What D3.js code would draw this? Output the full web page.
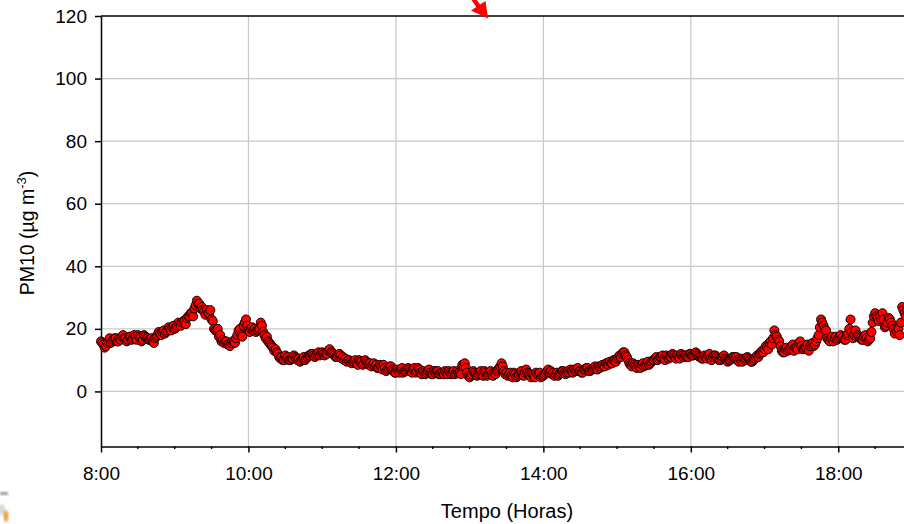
<!DOCTYPE html>
<html>
<head>
<meta charset="utf-8">
<script src="https://cdn.jsdelivr.net/npm/d3@7"></script>
<style>
  html, body { margin: 0; padding: 0; background: #fff; overflow: hidden; }
  svg { display: block; font-family: "Liberation Sans", Arial, sans-serif; }
</style>
</head>
<body>
<svg id="chart" width="904" height="524"></svg>
<script>
// PM10 concentration, one reading per minute from 8:00
const startClock = "08:00";
const stepMinutes = 1;
const pm10 = [
  16, 15.5, 15, 14, 14.5, 15.5, 16, 17, 15.5, 16, 16.5, 17, 17, 16, 16, 17, 16.5, 17.5, 18, 17,
  17, 16, 16.5, 17.5, 17.5, 16.5, 17, 18, 17.5, 16.5, 18, 17.5, 17, 16, 16.5, 18, 17.5, 17, 17, 16.5,
  16.5, 17, 16, 15.5, 17, 17.5, 18, 19, 18.5, 18, 19, 19.5, 18.5, 19, 19.5, 20.5, 20, 19.5, 20.5, 21,
  20, 20.5, 21, 22, 21.5, 21, 22, 22.5, 22.5, 21.5, 23.5, 24, 24, 25, 25, 24, 26.5, 27.5, 29, 28,
  28, 26.5, 27, 26, 25.5, 24.5, 26, 25, 25, 26, 23, 22.5, 20, 19.5, 19.5, 20, 17.5, 18, 16, 16.5,
  15.5, 16, 16, 15, 15, 14.5, 15.5, 16, 16, 15.5, 17, 18, 19.5, 20, 18, 17.5, 21, 22, 23, 21,
  19.5, 19, 20, 20.5, 19.5, 20, 19, 19.5, 19.5, 20, 22, 21, 19, 18, 17, 17.5, 16, 15.5, 15, 14.5,
  14, 13, 13.5, 12.5, 12, 11, 10.5, 11, 10, 10, 11.5, 10.5, 11, 10, 10, 10.5, 10.5, 11.5, 11, 10.5,
  10, 10.5, 9.5, 10, 10.5, 11, 10, 10.5, 11, 11.5, 11.5, 12, 12, 11.5, 11, 11.5, 12, 12.5, 11.5, 12,
  12.5, 12, 11.5, 12, 12, 13, 13.5, 12.5, 12.5, 12, 11.5, 11, 11, 11.5, 12, 11.5, 10.5, 11, 10, 10.5,
  9.5, 10, 10, 9.5, 9, 9.5, 9.5, 10, 9, 8.5, 10, 9.5, 9.5, 8.5, 9, 10, 9.5, 9, 8.5, 9,
  8, 8.5, 9, 8, 8.5, 7.5, 7.5, 8.5, 8, 7, 8.5, 7.5, 6.5, 7, 7.5, 8, 8, 7, 6.5, 6,
  6, 7, 6.5, 6, 7, 7.5, 6, 6.5, 6.5, 7, 7.5, 7, 6.5, 6, 7, 7.5, 6, 6.5, 7.5, 7,
  6, 5.5, 6.5, 6, 5.5, 6, 6.5, 7, 6, 5.5, 5.5, 6.5, 6, 6.5, 6.5, 5.5, 5.5, 6, 6, 5.5,
  6.5, 6, 5.5, 6.5, 6, 5.5, 6, 6.5, 5.5, 6, 6.5, 6, 6, 5.5, 8.5, 8, 9, 7.5, 6, 5,
  4.5, 5, 5.5, 6.5, 6, 5.5, 5, 5.5, 6, 6.5, 5.5, 5, 6.5, 6, 5, 5.5, 6, 6.5, 5.5, 5,
  6, 5.5, 6.5, 7, 7.5, 8, 9, 8, 6.5, 5.5, 6, 5, 5.5, 6, 5, 4.5, 6, 5.5, 4.5, 5,
  5.5, 6, 6.5, 5.5, 5, 6, 7, 6, 5.5, 5, 4.5, 5.5, 5, 4.5, 6, 5.5, 5.5, 6, 4.5, 5,
  5, 5.5, 6, 6.5, 7, 6, 6.5, 5.5, 6, 5, 5.5, 6, 5, 5.5, 6, 6.5, 6.5, 6, 5.5, 6,
  6.5, 6, 7, 6.5, 6, 7, 6.5, 7, 7.5, 6.5, 6.5, 6, 6, 7, 7, 7.5, 7.5, 6.5, 6.5, 7,
  7, 7.5, 8, 7.5, 7, 8, 7.5, 8, 8.5, 8, 8, 9, 9, 8.5, 9.5, 9, 9, 10, 10, 9.5,
  10.5, 11, 11.5, 11, 12, 12.5, 12.5, 11.5, 11, 10, 9, 8.5, 8, 9, 8.5, 8, 7.5, 8.5, 8, 7.5,
  8.5, 9, 8, 8.5, 9, 9.5, 8.5, 9, 9.5, 10, 10, 10.5, 11, 10, 10.5, 11, 11, 11.5, 10.5, 10,
  11.5, 11, 10.5, 11, 11, 12, 11.5, 11, 10.5, 11.5, 11, 10.5, 12, 11.5, 11, 11.5, 11.5, 11, 11, 12,
  12, 11.5, 11.5, 12, 12.5, 12, 11.5, 11, 11, 10.5, 10.5, 11.5, 11, 10.5, 11.5, 12, 10.5, 10, 11, 11.5,
  11.5, 11, 10.5, 10, 10, 10.5, 11, 11.5, 10.5, 10, 9.5, 10, 10, 10.5, 11, 11, 10.5, 11, 10, 9.5,
  10.5, 10, 9.5, 10.5, 10, 10.5, 11, 10.5, 10, 9.5, 9.5, 10, 10.5, 11, 11.5, 11, 12, 12.5, 13, 12.5,
  13.5, 14.5, 14, 13.5, 15.5, 16, 15, 17, 19.5, 18, 17.5, 16.5, 16, 14.5, 13, 12.5, 12.5, 13.5, 14, 13,
  13.5, 14, 14.5, 15, 13, 14, 14, 13.5, 15.5, 16, 14.5, 13.5, 13.5, 14, 14, 15, 13, 14.5, 15, 15.5,
  14.5, 15, 16, 17, 18, 20.5, 23, 22, 21, 20, 19.5, 17, 16.5, 16, 17, 17.5, 16, 17, 17.5, 16.5,
  17, 17.5, 18, 17, 17.5, 16.5, 16.5, 18, 18.5, 20, 23, 19, 17, 18, 19.5, 17.5, 18, 17.5, 17, 16.5,
  16.5, 17.5, 18, 17, 16, 16.5, 17, 19, 22, 24, 25, 24, 23.5, 22.5, 24, 23, 25, 23, 20.5, 21,
  22, 23.5, 23, 22, 21, 20, 18.5, 19.5, 19, 20, 18, 22, 27, 26, 25, 24, 26, 25, 27, 26
];
const xDomainClock = ["08:00", "19:00"];
const xTickClock = ["08:00", "10:00", "12:00", "14:00", "16:00", "18:00"];
const xTickLabels = ["8:00", "10:00", "12:00", "14:00", "16:00", "18:00"];
const yTickValues = [0, 20, 40, 60, 80, 100, 120];
const yGridValues = [0, 20, 40, 60, 80, 100];
const yDomain = [-17.6, 120];

const parseClock = d3.timeParse("%Y-%m-%d %H:%M");
const clock = s => parseClock("2000-01-01 " + s);
const t0 = clock(startClock);
const points = pm10.map((v, i) => ({ time: d3.timeMinute.offset(t0, i * stepMinutes), value: v }));

const svg = d3.select("#chart");
const plotLeft = 101, plotRight = 912, plotTop = 16, plotBottom = 446.5;

const x = d3.scaleTime().domain(xDomainClock.map(clock)).range([plotLeft, plotRight]);
const y = d3.scaleLinear().domain(yDomain).range([plotBottom, plotTop]);
const xTicks = xTickClock.map(clock);
const xMinor = d3.timeMinute.every(30).range(x.domain()[0], d3.timeMinute.offset(x.domain()[1], 1))
  .filter(d => d.getMinutes() !== 0 || d.getHours() % 2 === 1);

// grid
const grid = svg.append("g").attr("stroke", "#c8c8c8").attr("stroke-width", 1.2);
grid.selectAll("line.v").data(xTicks.slice(1)).join("line")
  .attr("x1", d => x(d)).attr("x2", d => x(d)).attr("y1", plotTop).attr("y2", plotBottom);
grid.selectAll("line.h").data(yGridValues).join("line")
  .attr("x1", plotLeft).attr("x2", plotRight).attr("y1", d => y(d)).attr("y2", d => y(d));

// axes
const fontSize = 19;
const xAxis = svg.append("g").attr("transform", `translate(0,${plotBottom})`)
  .call(d3.axisBottom(x).tickValues(xTicks).tickSize(6).tickSizeOuter(0).tickPadding(14)
    .tickFormat((d, i) => xTickLabels[i]));
xAxis.selectAll("g.minor").data(xMinor).join("g").attr("class", "minor")
  .append("line").attr("x1", d => x(d)).attr("x2", d => x(d)).attr("y1", 0).attr("y2", 2.5)
  .attr("stroke", "#000").attr("stroke-width", 1.4);

const yAxis = svg.append("g").attr("transform", `translate(${plotLeft},0)`)
  .call(d3.axisLeft(y).tickValues(yTickValues).tickSize(6).tickSizeOuter(0).tickPadding(8));

[xAxis, yAxis].forEach(a => {
  a.select(".domain").attr("stroke", "#000").attr("stroke-width", 1.5);
  a.selectAll(".tick line").attr("stroke", "#000").attr("stroke-width", 1.5);
  a.selectAll(".tick text").attr("fill", "#000").attr("font-size", fontSize)
    .attr("font-family", "'Liberation Sans', Arial, sans-serif");
});

// top frame
svg.append("line").attr("x1", plotLeft).attr("x2", plotRight).attr("y1", y(120)).attr("y2", y(120))
  .attr("stroke", "#000").attr("stroke-width", 1.5);

// measurements
svg.append("g").selectAll("circle").data(points).join("circle")
  .attr("cx", d => x(d.time)).attr("cy", d => y(d.value)).attr("r", 4.5)
  .attr("fill", "#ff0000").attr("stroke", "#1a0000").attr("stroke-width", 1);

// axis titles
svg.append("text").attr("x", 507).attr("y", 518)
  .attr("text-anchor", "middle").attr("font-size", 20).text("Tempo (Horas)");

const yt = svg.append("text").attr("transform", "translate(34,233) rotate(-90)")
  .attr("text-anchor", "middle").attr("font-size", 19.5);
yt.append("tspan").text("PM10 (µg m");
yt.append("tspan").attr("font-size", 13).attr("dy", -8).text("-3");
yt.append("tspan").attr("dy", 8).text(")");

// pointer arrow at the top edge
const arrow = svg.append("g").attr("fill", "#ff0000").attr("stroke", "none");
arrow.append("line").attr("x1", 470).attr("y1", -6).attr("x2", 479).attr("y2", 7)
  .attr("stroke", "#ff0000").attr("stroke-width", 4.5);
arrow.append("polygon").attr("points", "488,18.5 471,10.5 485.5,1");

// small logo fragment in the lower-left corner
const logo = svg.append("g");
const blur = svg.append("defs").append("filter").attr("id", "soft");
blur.append("feGaussianBlur").attr("stdDeviation", 1.2);
logo.append("rect").attr("x", 0).attr("y", 492).attr("width", 8).attr("height", 3)
  .attr("fill", "#9a9a9a").attr("filter", "url(#soft)");
logo.append("ellipse").attr("cx", 2).attr("cy", 510).attr("rx", 3).attr("ry", 6)
  .attr("fill", "#d8d8d8").attr("filter", "url(#soft)");
logo.append("ellipse").attr("cx", 6).attr("cy", 516).attr("rx", 2.5).attr("ry", 6)
  .attr("fill", "#f0a030").attr("filter", "url(#soft)");
</script>
</body>
</html>
